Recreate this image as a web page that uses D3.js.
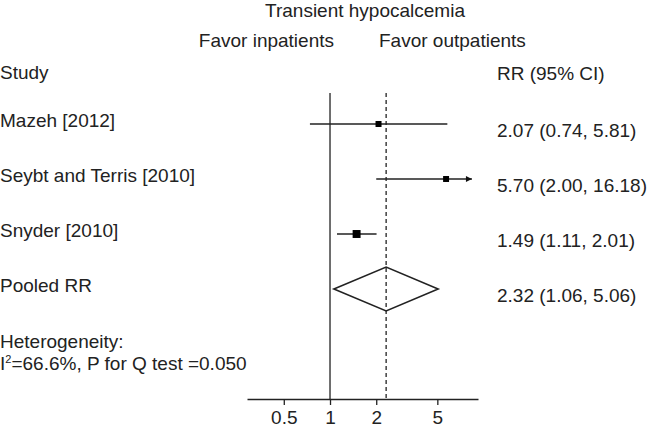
<!DOCTYPE html>
<html>
<head>
<meta charset="utf-8">
<script src="https://cdn.jsdelivr.net/npm/d3@7"></script>
<style>
  body { margin: 0; background: #fff; }
  text { font-family: "Liberation Sans", Arial, sans-serif; font-size: 19px; fill: #222; }
</style>
</head>
<body>
<script>
const width = 650;
const height = 432;

// dati
const studies = ["Mazeh [2012]", "Seybt and Terris [2010]", "Snyder [2010]"];
const rr = [2.07, 5.70, 1.49];
const lower = [0.74, 2.00, 1.11];
const upper = [5.81, 16.18, 2.01];
const weights = [26.7, 26.4, 46.8]; // peso % (random effects)
const pooled = { label: "Pooled RR", rr: 2.32, lower: 1.06, upper: 5.06 };
const ticks = [0.5, 1, 2, 5];
const axisDomain = [0.288, 9.2];
const arrowLimit = 8.4;

const rows = studies.map((s, i) => ({ label: s, rr: rr[i], lower: lower[i], upper: upper[i], w: weights[i] }));
const fmt = d3.format(".2f");
const ciText = d => `${fmt(d.rr)} (${fmt(d.lower)}, ${fmt(d.upper)})`;

const svg = d3.select('body').append('svg')
  .attr('width', width)
  .attr('height', height);

// scale
const x = d3.scaleLog().domain(axisDomain).range([247, 478]);
const y = d3.scalePoint()
  .domain([...studies, pooled.label])
  .range([124, 289]);
const box = d3.scaleSqrt().domain([0, 26.7]).range([0, 6]);

// titoli
svg.append('text').attr('x', 365).attr('y', 17).attr('text-anchor', 'middle').text('Transient hypocalcemia');
svg.append('text').attr('x', 334).attr('y', 47).attr('text-anchor', 'end').text('Favor inpatients');
svg.append('text').attr('x', 379).attr('y', 47).text('Favor outpatients');
svg.append('text').attr('x', 0).attr('y', 79).text('Study');
svg.append('text').attr('x', 497).attr('y', 80).text('RR (95% CI)');

// linee verticali
svg.append('line')
  .attr('x1', x(1)).attr('x2', x(1))
  .attr('y1', 93).attr('y2', 399)
  .attr('stroke', '#222').attr('stroke-width', 1.3);

svg.append('line')
  .attr('x1', x(pooled.rr)).attr('x2', x(pooled.rr))
  .attr('y1', 93).attr('y2', 399)
  .attr('stroke', '#222').attr('stroke-width', 1.3)
  .attr('stroke-dasharray', '4,3');

// freccia
svg.append('defs').append('marker')
  .attr('id', 'arrow')
  .attr('viewBox', '0 0 10 10')
  .attr('refX', 10).attr('refY', 5)
  .attr('markerWidth', 7).attr('markerHeight', 6)
  .attr('markerUnits', 'userSpaceOnUse')
  .attr('orient', 'auto')
  .append('path').attr('d', 'M0,0L10,5L0,10Z').attr('fill', '#111');

// intervalli di confidenza
svg.selectAll('.ci')
  .data(rows)
  .enter()
  .append('line')
  .attr('class', 'ci')
  .attr('x1', d => x(d.lower))
  .attr('x2', d => x(Math.min(d.upper, arrowLimit)))
  .attr('y1', d => y(d.label))
  .attr('y2', d => y(d.label))
  .attr('stroke', '#222')
  .attr('stroke-width', 1.6)
  .attr('marker-end', d => d.upper > arrowLimit ? 'url(#arrow)' : null);

// quadrati
svg.selectAll('.pt')
  .data(rows)
  .enter()
  .append('rect')
  .attr('class', 'pt')
  .attr('x', d => x(d.rr) - box(d.w) / 2)
  .attr('y', d => y(d.label) - box(d.w) / 2)
  .attr('width', d => box(d.w))
  .attr('height', d => box(d.w))
  .attr('fill', '#000');

// diamante
const yp = y(pooled.label);
svg.append('path')
  .attr('d', `M${x(pooled.lower)},${yp}L${x(pooled.rr)},${yp - 22}L${x(pooled.upper)},${yp}L${x(pooled.rr)},${yp + 22}Z`)
  .attr('fill', 'none')
  .attr('stroke', '#222')
  .attr('stroke-width', 1.6);

// etichette
svg.selectAll('.lab')
  .data([...rows, pooled])
  .enter()
  .append('text')
  .attr('class', 'lab')
  .attr('x', 0)
  .attr('y', d => y(d.label) + 3)
  .text(d => d.label);

svg.selectAll('.ci-lab')
  .data([...rows, pooled])
  .enter()
  .append('text')
  .attr('class', 'ci-lab')
  .attr('x', 497)
  .attr('y', d => y(d.label) + 13)
  .text(ciText);

// eterogeneità
svg.append('text').attr('x', 0).attr('y', 348).text('Heterogeneity:');
const het = svg.append('text').attr('x', 0).attr('y', 370);
het.append('tspan').text('I');
het.append('tspan').attr('dy', -7).style('font-size', '11px').text('2');
het.append('tspan').attr('dy', 7).text('=66.6%, P for Q test =0.050');

// asse
const axis = d3.axisBottom(x)
  .tickValues(ticks)
  .tickFormat(d3.format(''))
  .tickSizeOuter(0)
  .tickSizeInner(6)
  .tickPadding(6);

const gx = svg.append('g')
  .attr('transform', 'translate(0,399)')
  .call(axis);
gx.select('.domain').attr('stroke', '#222').attr('stroke-width', 1.3);
gx.selectAll('.tick line').attr('stroke', '#222').attr('stroke-width', 1.3);
gx.selectAll('.tick text')
  .style('font-family', '"Liberation Sans", Arial, sans-serif')
  .style('font-size', '19px')
  .attr('fill', '#222');
</script>
</body>
</html>
